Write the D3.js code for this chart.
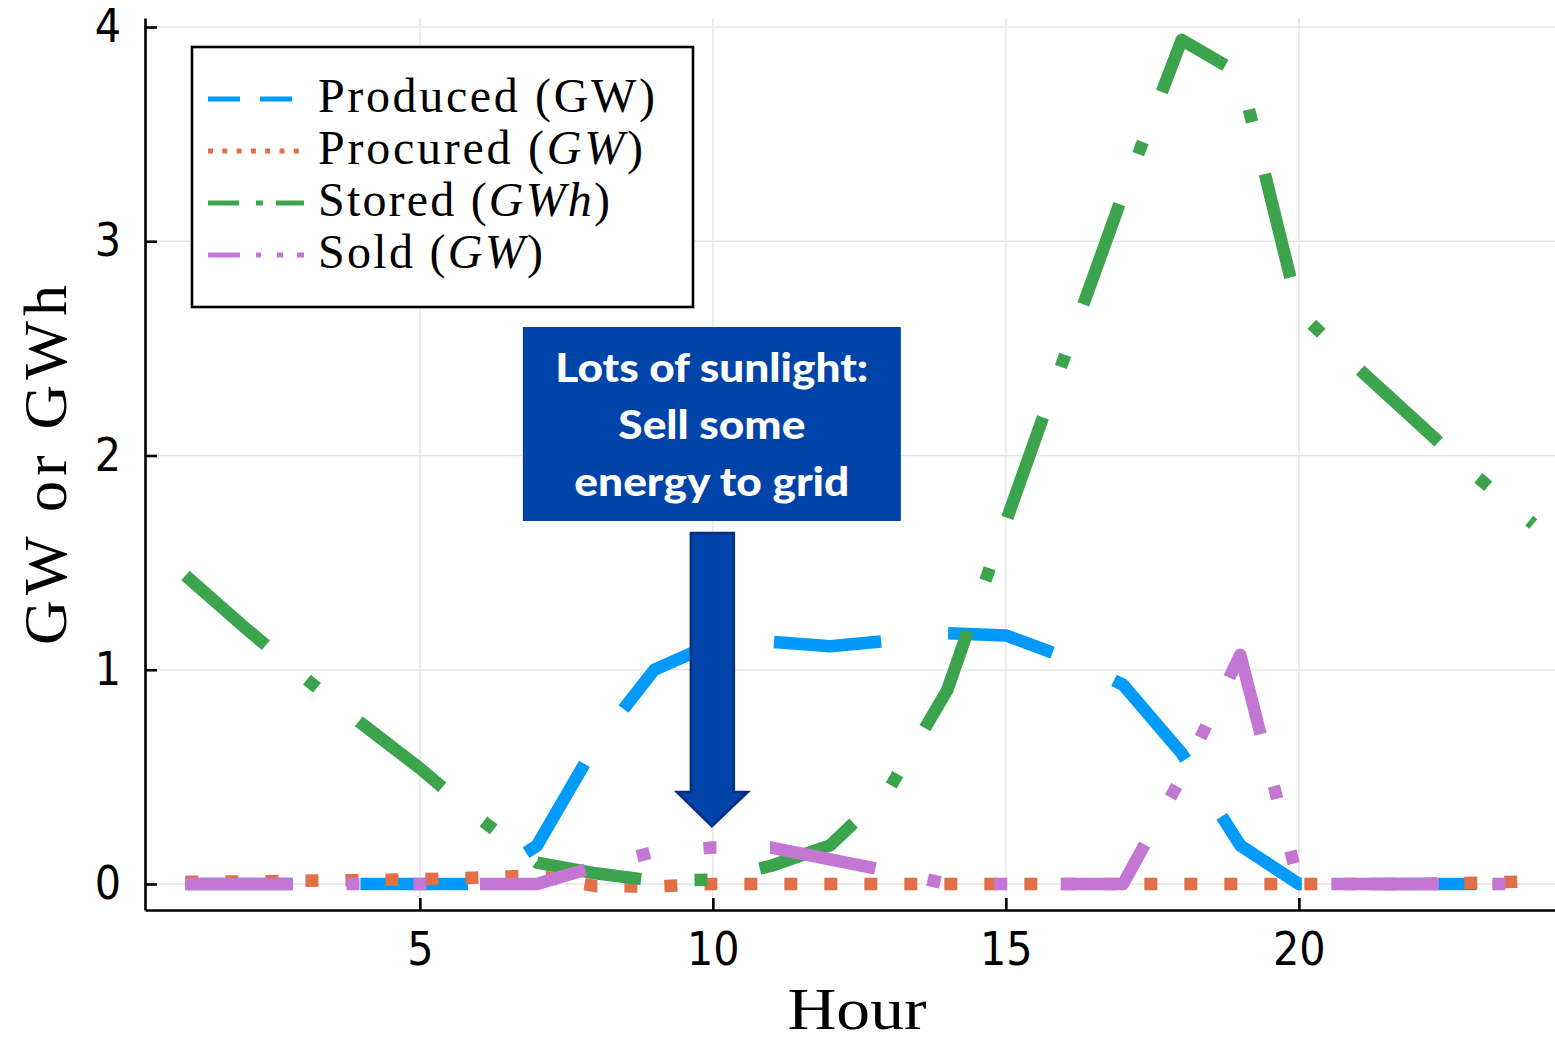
<!DOCTYPE html>
<html>
<head>
<meta charset="utf-8">
<script src="https://cdn.jsdelivr.net/npm/d3@7"></script>
<style>
  body { margin: 0; background: #fff; }
  svg { display: block; }
  .tick text { font-family: "DejaVu Sans Condensed", "DejaVu Sans", sans-serif; font-stretch: condensed; font-size: 46px; fill: #000; }
</style>
</head>
<body>
<svg id="chart" width="1555" height="1041"></svg>
<script>
// Hourly energy balance of a solar + storage plant
const hours = d3.range(1, 25);
const produced = [0, 0, 0, 0, 0, 0, 0.18, 0.65, 1.00, 1.12, 1.13, 1.11, 1.135, 1.17, 1.16, 1.06, 0.93, 0.61, 0.18, 0, 0, 0, 0, 0];
const procured = [0.010, 0.012, 0.015, 0.018, 0.022, 0.030, 0.040, -0.010, -0.012, 0, 0, 0, 0, 0, 0, 0, 0, 0, 0, 0, 0, 0, 0.006, 0.012];
const stored = [1.44, 1.20, 0.97, 0.75, 0.54, 0.31, 0.10, 0.05, 0.015, 0.02, 0.085, 0.18, 0.44, 0.905, 1.69, 2.46, 3.22, 3.94, 3.78, 2.67, 2.41, 2.16, 1.91, 1.68];
const sold = [0, 0, 0, 0, 0, 0, 0, 0.08, 0.15, 0.17, 0.17, 0.115, 0.06, 0, 0, 0, 0, 0.50, 1.07, 0, 0, 0, 0, 0];

const xTicks = [5, 10, 15, 20];
const yTicks = [0, 1, 2, 3, 4];

const annotationLines = ["Lots of sunlight:", "Sell some", "energy to grid"];

const series = [
  { name: "Produced", unit: "GW", unitItalic: false, values: produced, color: "#009AFA",
    dash: "107.5,67.5", legendDash: "32,20" },
  { name: "Procured", unit: "GW", unitItalic: true, values: procured, color: "#E26F46",
    dash: "13,27", legendDash: "5,9.3" },
  { name: "Stored", unit: "GWh", unitItalic: true, values: stored, color: "#3DA44E",
    dash: "106.5,53.5,13,53.5", legendDash: "31,17,7,13" },
  { name: "Sold", unit: "GW", unitItalic: true, values: sold, color: "#C376D3",
    dash: "107.5,53.5,13,54,13,53.5", legendDash: "32,16,5,16,6,14" }
];

const svg = d3.select("#chart");
const plotLeft = 145, plotBottom = 910, plotTop = 18;

const x = d3.scaleLinear().domain([0.31, 24.69]).range([plotLeft, 1573.7]);
const y = d3.scaleLinear().domain([-0.1214, 4.042]).range([plotBottom, plotTop]);

// grid
const grid = svg.append("g").attr("stroke", "#e6e6e6").attr("stroke-width", 1.5);
grid.selectAll("line.gx").data(xTicks).join("line").attr("class", "gx")
  .attr("x1", d => x(d)).attr("x2", d => x(d)).attr("y1", plotTop).attr("y2", plotBottom);
grid.selectAll("line.gy").data(yTicks).join("line").attr("class", "gy")
  .attr("x1", plotLeft).attr("x2", x.range()[1]).attr("y1", d => y(d)).attr("y2", d => y(d));

// series lines
svg.append("clipPath").attr("id", "plotclip").append("rect")
  .attr("x", plotLeft).attr("y", plotTop)
  .attr("width", x.range()[1] - plotLeft).attr("height", plotBottom - plotTop);

const line = d3.line().x((d, i) => x(hours[i])).y(d => y(d));
const lines = svg.append("g").attr("clip-path", "url(#plotclip)");
series.forEach(s => {
  lines.append("path")
    .attr("d", line(s.values))
    .attr("fill", "none")
    .attr("stroke", s.color)
    .attr("stroke-width", 12.5)
    .attr("stroke-linejoin", "round")
    .attr("stroke-linecap", "butt")
    .attr("stroke-dasharray", s.dash);
});

// axes
const xAxis = d3.axisBottom(x).tickValues(xTicks).tickSize(-12).tickSizeOuter(0).tickPadding(22)
  .tickFormat(d3.format("d"));
const yAxis = d3.axisLeft(y).tickValues(yTicks).tickSize(-12).tickSizeOuter(0).tickPadding(24)
  .tickFormat(d3.format("d"));

const gx = svg.append("g").attr("transform", `translate(0,${plotBottom})`).call(xAxis);
const gy = svg.append("g").attr("transform", `translate(${plotLeft},0)`).call(yAxis);
[gx, gy].forEach(g => {
  g.attr("font-family", null).attr("font-size", null);
  g.select(".domain").attr("stroke", "#000").attr("stroke-width", 2.6);
  g.selectAll(".tick line").attr("stroke", "#000").attr("stroke-width", 2.6);
});

// axis titles
svg.append("text")
  .attr("x", 857).attr("y", 1029)
  .attr("text-anchor", "middle")
  .attr("font-family", "Liberation Serif, serif")
  .attr("font-size", 60)
  .attr("textLength", 139).attr("lengthAdjust", "spacingAndGlyphs")
  .text("Hour");

svg.append("text")
  .attr("transform", "translate(66,465) rotate(-90)")
  .attr("text-anchor", "middle")
  .attr("font-family", "Liberation Serif, serif")
  .attr("font-size", 62)
  .attr("textLength", 360).attr("lengthAdjust", "spacing")
  .text("GW or GWh");

// legend
const legend = svg.append("g");
legend.append("rect")
  .attr("x", 192).attr("y", 47).attr("width", 501).attr("height", 260)
  .attr("fill", "#fff").attr("stroke", "#000").attr("stroke-width", 2.6);

const legendWidths = [337, 325, 292, 225];
series.forEach((s, i) => {
  const cy = 99 + i * 52;
  legend.append("line")
    .attr("x1", 208).attr("x2", 304).attr("y1", cy).attr("y2", cy)
    .attr("stroke", s.color).attr("stroke-width", 5)
    .attr("stroke-dasharray", s.legendDash);
  const t = legend.append("text")
    .attr("x", 318).attr("y", cy + 13)
    .attr("font-family", "Liberation Serif, serif")
    .attr("font-size", 48)
    .attr("textLength", legendWidths[i]).attr("lengthAdjust", "spacing");
  t.append("tspan").text(s.name + " (");
  t.append("tspan").attr("font-style", s.unitItalic ? "italic" : "normal").text(s.unit);
  t.append("tspan").text(")");
});

// annotation box and arrow pointing at hour 10
const boxColor = "#0044AA";
const ax = x(10);
const note = svg.append("g");
note.append("rect")
  .attr("x", ax - 190).attr("y", 327).attr("width", 378).attr("height", 194)
  .attr("fill", boxColor);

const noteWidths = [313, 187, 275];
annotationLines.forEach((txt, i) => {
  note.append("text")
    .attr("x", ax - 1).attr("y", 382 + i * 57)
    .attr("text-anchor", "middle")
    .attr("font-family", "Lato, 'Open Sans', sans-serif")
    .attr("font-weight", 900)
    .attr("font-size", 40)
    .attr("fill", "#fff")
    .attr("textLength", noteWidths[i]).attr("lengthAdjust", "spacingAndGlyphs")
    .text(txt);
});

const tipY = y(0.27);
const arrow = d3.path();
arrow.moveTo(ax - 22, 533);
arrow.lineTo(ax + 21, 533);
arrow.lineTo(ax + 21, 792);
arrow.lineTo(ax + 35, 792);
arrow.lineTo(ax - 1, tipY);
arrow.lineTo(ax - 36, 792);
arrow.lineTo(ax - 22, 792);
arrow.closePath();
note.append("path")
  .attr("d", arrow.toString())
  .attr("fill", boxColor)
  .attr("stroke", "#062f80")
  .attr("stroke-width", 2.5)
  .attr("stroke-linejoin", "miter");
</script>
</body>
</html>
